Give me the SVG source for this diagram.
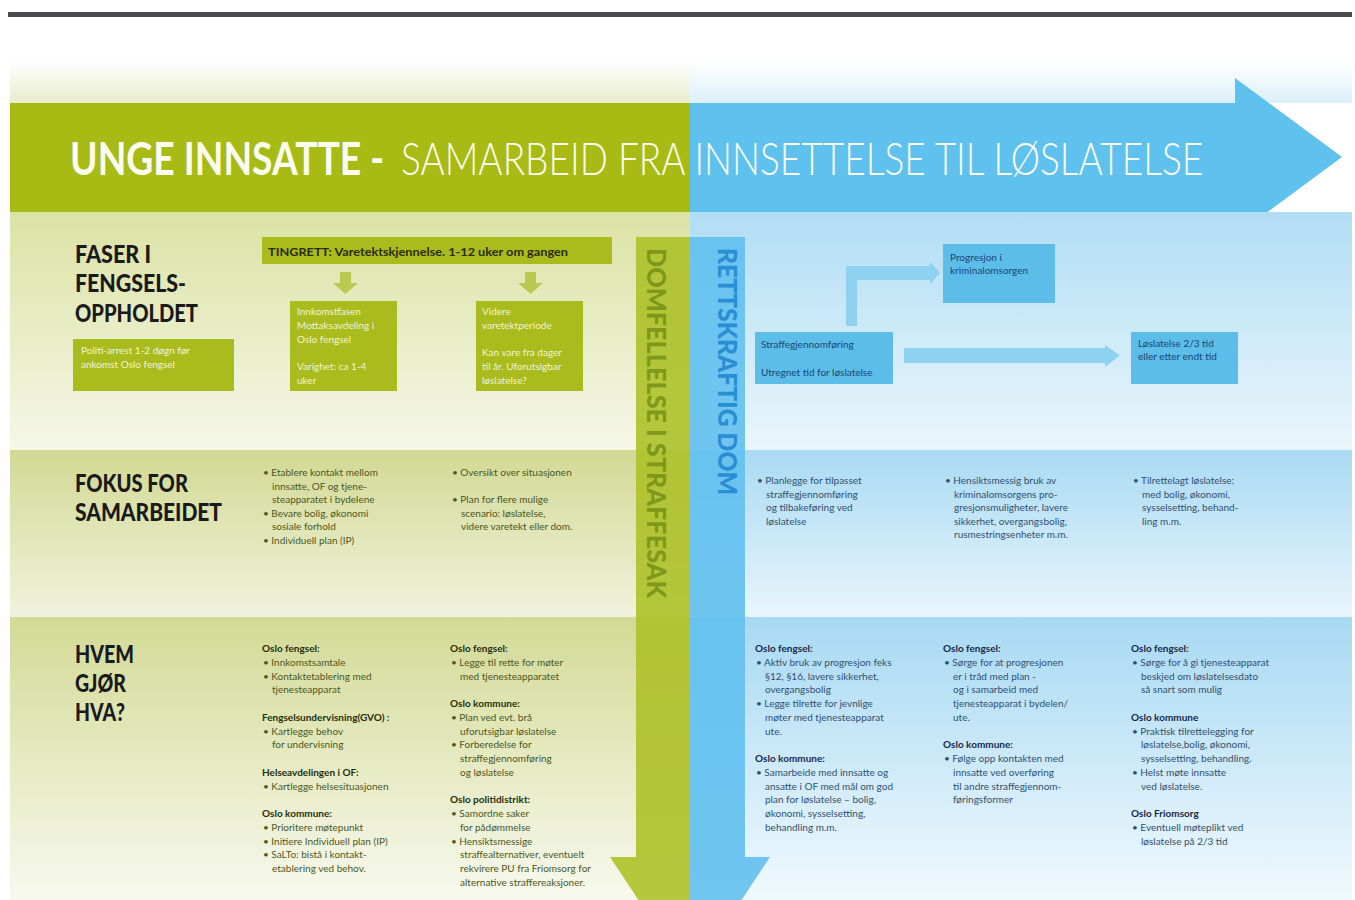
<svg xmlns="http://www.w3.org/2000/svg" width="1355" height="900" viewBox="0 0 1355 900">
<defs>
<linearGradient id="gTopL" x1="0" y1="0" x2="0" y2="1"><stop offset="0.5" stop-color="#ffffff"/><stop offset="1" stop-color="#e9edcd"/></linearGradient>
<linearGradient id="gTopR" x1="0" y1="0" x2="0" y2="1"><stop offset="0.5" stop-color="#ffffff"/><stop offset="1" stop-color="#dcf0fa"/></linearGradient>
<linearGradient id="gL1" x1="0" y1="0" x2="0" y2="1"><stop offset="0" stop-color="#dce2a4"/><stop offset="1" stop-color="#f5f7e7"/></linearGradient>
<linearGradient id="gL2" x1="0" y1="0" x2="0" y2="1"><stop offset="0" stop-color="#d2d993"/><stop offset="1" stop-color="#f0f3dd"/></linearGradient>
<linearGradient id="gL3" x1="0" y1="0" x2="0" y2="1"><stop offset="0" stop-color="#d3da95"/><stop offset="1" stop-color="#f7f9ee"/></linearGradient>
<linearGradient id="gR1" x1="0" y1="0" x2="0" y2="1"><stop offset="0" stop-color="#b1ddf4"/><stop offset="1" stop-color="#eaf6fc"/></linearGradient>
<linearGradient id="gR2" x1="0" y1="0" x2="0" y2="1"><stop offset="0" stop-color="#a9daf3"/><stop offset="1" stop-color="#e8f5fc"/></linearGradient>
<linearGradient id="gR3" x1="0" y1="0" x2="0" y2="1"><stop offset="0" stop-color="#a8d9f3"/><stop offset="1" stop-color="#f0f9fd"/></linearGradient>
</defs>
<style>
text { font-family: Lato, "Liberation Sans", sans-serif; }
.hdr { font-size: 25px; font-weight: 900; fill: #1a1a1a; }
.gbox { fill: #a9bb1d; }
.bbox { fill: #5cbde9; }
.gtx { font-size: 10px; fill: #f2f4d6; }
.btx { font-size: 10px; fill: #1b4574; }
.tl { font-size: 10px; fill: #4b5722; }
.tr { font-size: 10px; fill: #30506f; }
.hl { font-weight: bold; fill: #262e0c; }
.hr { font-weight: bold; fill: #142a48; }
.garr { fill: #b9ca50; }
.barr { fill: #8fd1f1; }
</style>

<!-- background -->
<rect x="0" y="0" width="1355" height="900" fill="#ffffff"/>
<rect x="8" y="12" width="1344" height="5" fill="#4b4b50"/>
<rect x="10" y="17" width="680" height="86" fill="url(#gTopL)"/>
<rect x="690" y="17" width="662" height="86" fill="url(#gTopR)"/>

<!-- title band -->
<g id="title">
<polygon points="690,103 1235,103 1235,78 1342,157 1235,236 1235,212 690,212" fill="#5fc1ee"/>
<rect x="10" y="103" width="680" height="109" fill="#a8ba14"/>
<text transform="translate(70,175) scale(0.84,1)" x="0" y="0" font-size="46" font-weight="bold" fill="#fbfcf0" textLength="374" lengthAdjust="spacingAndGlyphs">UNGE INNSATTE -</text>
<text transform="translate(401,175) scale(0.84,1)" x="0" y="0" font-size="46" font-weight="300" fill="#fbfcf0" textLength="955" lengthAdjust="spacingAndGlyphs">SAMARBEID FRA INNSETTELSE TIL LØSLATELSE</text>
</g>

<!-- row panels -->
<g id="panels">
<rect x="10" y="212" width="680" height="238" fill="url(#gL1)"/>
<rect x="10" y="450" width="680" height="167" fill="url(#gL2)"/>
<rect x="10" y="617" width="680" height="283" fill="url(#gL3)"/>
<rect x="690" y="212" width="662" height="238" fill="url(#gR1)"/>
<rect x="690" y="450" width="662" height="167" fill="url(#gR2)"/>
<rect x="690" y="617" width="662" height="283" fill="url(#gR3)"/>
</g>

<!-- vertical band arrows -->
<g id="bands">
<path d="M636,237 H690 V978 L610,857 H636 Z" fill="#adc128" opacity="0.9"/>
<path d="M690,237 H745 V857 H770 L690,978 Z" fill="#62c0ee" opacity="0.9"/>
<text transform="translate(647,248) rotate(90)" font-size="26" font-weight="900" fill="#7f981c" textLength="350" lengthAdjust="spacingAndGlyphs">DOMFELLELSE I STRAFFESAK</text>
<text transform="translate(718,248) rotate(90)" font-size="26" font-weight="900" fill="#2a8ed4" textLength="247" lengthAdjust="spacingAndGlyphs">RETTSKRAFTIG DOM</text>
</g>

<!-- row headers -->
<g id="row-headers">
<text class="hdr" x="75" y="263" textLength="76" lengthAdjust="spacingAndGlyphs">FASER I</text>
<text class="hdr" x="75" y="292" textLength="111" lengthAdjust="spacingAndGlyphs">FENGSELS-</text>
<text class="hdr" x="75" y="322" textLength="123" lengthAdjust="spacingAndGlyphs">OPPHOLDET</text>
<text class="hdr" x="75" y="492" textLength="113" lengthAdjust="spacingAndGlyphs">FOKUS FOR</text>
<text class="hdr" x="75" y="521" textLength="147" lengthAdjust="spacingAndGlyphs">SAMARBEIDET</text>
<text class="hdr" x="75" y="663" textLength="59" lengthAdjust="spacingAndGlyphs">HVEM</text>
<text class="hdr" x="75" y="692" textLength="51" lengthAdjust="spacingAndGlyphs">GJØR</text>
<text class="hdr" x="75" y="721" textLength="50" lengthAdjust="spacingAndGlyphs">HVA?</text>
</g>

<!-- connectors -->
<g id="connectors">
<polygon class="garr" points="340,272 351,272 351,283 358,283 345.5,294 333,283 340,283"/>
<polygon class="garr" points="525,272 536,272 536,283 543,283 530.5,294 518,283 525,283"/>
<polygon class="barr" points="846,326 846,266 930,266 930,262 940,273 930,284 930,280 857,280 857,326"/>
<polygon class="barr" points="904,348 1105,348 1105,345 1120,355.5 1105,367 1105,363 904,363"/>
</g>

<!-- phase nodes -->
<g id="node-politi">
<rect class="gbox" x="73" y="339" width="161" height="52"/>
<text class="gtx"><tspan x="81" y="354">Politi-arrest 1-2 døgn før</tspan><tspan x="81" y="368">ankomst Oslo fengsel</tspan></text>
</g>
<g id="node-tingrett">
<rect class="gbox" x="262" y="237" width="350" height="27"/>
<text x="268" y="256" font-size="12" font-weight="bold" fill="#2a2c0e" textLength="300" lengthAdjust="spacingAndGlyphs">TINGRETT: Varetektskjennelse. 1-12 uker om gangen</text>
</g>
<g id="node-innkomst">
<rect class="gbox" x="290" y="301" width="107" height="90"/>
<text class="gtx"><tspan x="297" y="315">Innkomstfasen</tspan><tspan x="297" y="329">Mottaksavdeling i</tspan><tspan x="297" y="343">Oslo fengsel</tspan><tspan x="297" y="370">Varighet: ca 1-4</tspan><tspan x="297" y="384">uker</tspan></text>
</g>
<g id="node-videre">
<rect class="gbox" x="476" y="301" width="107" height="90"/>
<text class="gtx"><tspan x="482" y="315">Videre</tspan><tspan x="482" y="329">varetektperiode</tspan><tspan x="482" y="356">Kan vare fra dager</tspan><tspan x="482" y="370">til år. Uforutsigbar</tspan><tspan x="482" y="384">løslatelse?</tspan></text>
</g>
<g id="node-straffe">
<rect class="bbox" x="755" y="332" width="138" height="52"/>
<text class="btx"><tspan x="761" y="348">Straffegjennomføring</tspan><tspan x="761" y="376">Utregnet tid for løslatelse</tspan></text>
</g>
<g id="node-progresjon">
<rect class="bbox" x="943" y="244" width="112" height="59"/>
<text class="btx"><tspan x="950" y="261">Progresjon i</tspan><tspan x="950" y="274">kriminalomsorgen</tspan></text>
</g>
<g id="node-loslatelse">
<rect class="bbox" x="1131" y="332" width="107" height="52"/>
<text class="btx"><tspan x="1138" y="347">Løslatelse 2/3 tid</tspan><tspan x="1138" y="360">eller etter endt tid</tspan></text>
</g>

<!-- focus row -->
<g id="focus-1">
<text class="tl"><tspan x="263" y="476">• Etablere kontakt mellom</tspan><tspan x="272" y="489.5">innsatte, OF og tjene-</tspan><tspan x="272" y="503">steapparatet i bydelene</tspan><tspan x="263" y="516.5">• Bevare bolig, økonomi</tspan><tspan x="272" y="530">sosiale forhold</tspan><tspan x="263" y="543.5">• Individuell plan (IP)</tspan></text>
</g>
<g id="focus-2">
<text class="tl"><tspan x="452" y="476">• Oversikt over situasjonen</tspan><tspan x="452" y="503">• Plan for flere  mulige</tspan><tspan x="461" y="516.5">scenario: løslatelse,</tspan><tspan x="461" y="530">videre varetekt eller dom.</tspan></text>
</g>
<g id="focus-3">
<text class="tr"><tspan x="757" y="484">• Planlegge for tilpasset</tspan><tspan x="766" y="497.5">straffegjennomføring</tspan><tspan x="766" y="511">og tilbakeføring ved</tspan><tspan x="766" y="524.5">løslatelse</tspan></text>
</g>
<g id="focus-4">
<text class="tr"><tspan x="945" y="484">• Hensiktsmessig bruk av</tspan><tspan x="954" y="497.5">kriminalomsorgens pro-</tspan><tspan x="954" y="511">gresjonsmuligheter, lavere</tspan><tspan x="954" y="524.5">sikkerhet, overgangsbolig,</tspan><tspan x="954" y="538">rusmestringsenheter m.m.</tspan></text>
</g>
<g id="focus-5">
<text class="tr"><tspan x="1133" y="484">• Tilrettelagt  løslatelse:</tspan><tspan x="1142" y="497.5">med bolig, økonomi,</tspan><tspan x="1142" y="511">sysselsetting, behand-</tspan><tspan x="1142" y="524.5">ling m.m.</tspan></text>
</g>

<!-- who does what row -->
<g id="who-1">
<text class="tl">
<tspan class="hl" x="262" y="652">Oslo fengsel:</tspan>
<tspan x="263" y="665.75">• Innkomstsamtale</tspan>
<tspan x="263" y="679.5">• Kontaktetablering med</tspan>
<tspan x="272" y="693.25">tjenesteapparat</tspan>
<tspan class="hl" x="262" y="720.75">Fengselsundervisning(GVO) :</tspan>
<tspan x="263" y="734.5">• Kartlegge behov</tspan>
<tspan x="272" y="748.25">for undervisning</tspan>
<tspan class="hl" x="262" y="775.75">Helseavdelingen i OF:</tspan>
<tspan x="263" y="789.5">• Kartlegge helsesituasjonen</tspan>
<tspan class="hl" x="262" y="817">Oslo kommune:</tspan>
<tspan x="263" y="830.75">• Prioritere møtepunkt</tspan>
<tspan x="263" y="844.5">• Initiere Individuell plan (IP)</tspan>
<tspan x="263" y="858.25">• SaLTo: bistå i kontakt-</tspan>
<tspan x="272" y="872">etablering ved behov.</tspan>
</text>
</g>
<g id="who-2">
<text class="tl">
<tspan class="hl" x="450" y="652">Oslo fengsel:</tspan>
<tspan x="451" y="665.75">• Legge til rette for møter</tspan>
<tspan x="460" y="679.5">med  tjenesteapparatet</tspan>
<tspan class="hl" x="450" y="707">Oslo kommune:</tspan>
<tspan x="451" y="720.75">• Plan ved evt. brå</tspan>
<tspan x="460" y="734.5">uforutsigbar løslatelse</tspan>
<tspan x="451" y="748.25">• Forberedelse for</tspan>
<tspan x="460" y="762">straffegjennomføring</tspan>
<tspan x="460" y="775.75">og løslatelse</tspan>
<tspan class="hl" x="450" y="803.25">Oslo politidistrikt:</tspan>
<tspan x="451" y="817">• Samordne saker</tspan>
<tspan x="460" y="830.75">for pådømmelse</tspan>
<tspan x="451" y="844.5">• Hensiktsmessige</tspan>
<tspan x="460" y="858.25">straffealternativer, eventuelt</tspan>
<tspan x="460" y="872">rekvirere PU fra Friomsorg for</tspan>
<tspan x="460" y="885.75">alternative straffereaksjoner.</tspan>
</text>
</g>
<g id="who-3">
<text class="tr">
<tspan class="hr" x="755" y="652">Oslo fengsel:</tspan>
<tspan x="756" y="665.75">• Aktiv bruk av progresjon feks</tspan>
<tspan x="765" y="679.5">§12, §16, lavere sikkerhet,</tspan>
<tspan x="765" y="693.25">overgangsbolig</tspan>
<tspan x="756" y="707">• Legge tilrette for jevnlige</tspan>
<tspan x="765" y="720.75">møter med tjenesteapparat</tspan>
<tspan x="765" y="734.5">ute.</tspan>
<tspan class="hr" x="755" y="762">Oslo kommune:</tspan>
<tspan x="756" y="775.75">• Samarbeide med innsatte og</tspan>
<tspan x="765" y="789.5">ansatte i OF med mål om god</tspan>
<tspan x="765" y="803.25">plan for løslatelse – bolig,</tspan>
<tspan x="765" y="817">økonomi, sysselsetting,</tspan>
<tspan x="765" y="830.75">behandling m.m.</tspan>
</text>
</g>
<g id="who-4">
<text class="tr">
<tspan class="hr" x="943" y="652">Oslo fengsel:</tspan>
<tspan x="944" y="665.75">• Sørge for at progresjonen</tspan>
<tspan x="953" y="679.5">er i tråd med plan -</tspan>
<tspan x="953" y="693.25">og i samarbeid med</tspan>
<tspan x="953" y="707">tjenesteapparat i bydelen/</tspan>
<tspan x="953" y="720.75">ute.</tspan>
<tspan class="hr" x="943" y="748.25">Oslo kommune:</tspan>
<tspan x="944" y="762">• Følge opp kontakten med</tspan>
<tspan x="953" y="775.75">innsatte ved overføring</tspan>
<tspan x="953" y="789.5">til andre straffegjennom-</tspan>
<tspan x="953" y="803.25">føringsformer</tspan>
</text>
</g>
<g id="who-5">
<text class="tr">
<tspan class="hr" x="1131" y="652">Oslo fengsel:</tspan>
<tspan x="1132" y="665.75">• Sørge for å gi tjenesteapparat</tspan>
<tspan x="1141" y="679.5">beskjed om løslatelsesdato</tspan>
<tspan x="1141" y="693.25">så snart som mulig</tspan>
<tspan class="hr" x="1131" y="720.75">Oslo kommune</tspan>
<tspan x="1132" y="734.5">• Praktisk tilrettelegging for</tspan>
<tspan x="1141" y="748.25">løslatelse,bolig, økonomi,</tspan>
<tspan x="1141" y="762">sysselsetting, behandling.</tspan>
<tspan x="1132" y="775.75">• Helst møte innsatte</tspan>
<tspan x="1141" y="789.5">ved løslatelse.</tspan>
<tspan class="hr" x="1131" y="817">Oslo Friomsorg</tspan>
<tspan x="1132" y="830.75">• Eventuell møteplikt ved</tspan>
<tspan x="1141" y="844.5">løslatelse på 2/3 tid</tspan>
</text>
</g>
</svg>
